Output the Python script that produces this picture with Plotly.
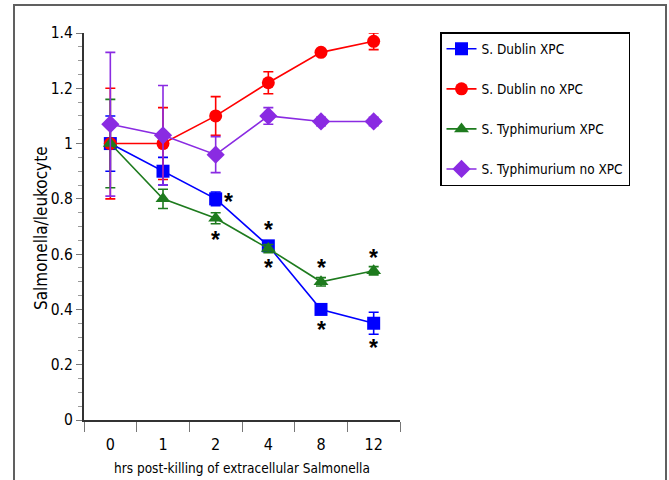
import plotly.graph_objects as go

hours = ["0", "1", "2", "4", "8", "12"]

dublin_xpc = [1.00, 0.90, 0.80, 0.63, 0.40, 0.35]
dublin_xpc_err = [0.10, 0.05, 0.025, 0.015, 0.015, 0.04]
dublin_no = [1.00, 1.00, 1.10, 1.22, 1.33, 1.37]
dublin_no_err = [0.20, 0.13, 0.07, 0.04, 0.01, 0.03]
typh_xpc = [1.00, 0.80, 0.73, 0.62, 0.50, 0.54]
typh_xpc_err = [0.16, 0.035, 0.02, 0.015, 0.015, 0.015]
typh_no = [1.07, 1.03, 0.96, 1.10, 1.08, 1.08]
typh_no_err = [0.26, 0.18, 0.065, 0.03, 0.015, 0.015]

names = ["S. Dublin XPC", "S. Dublin no XPC", "S. Typhimurium XPC", "S. Typhimurium no XPC"]
colors = ["#0000FF", "#FF0000", "#1E7B1E", "#8A2BE2"]
symbols = ["square", "circle", "triangle-up", "diamond"]
sizes = [13, 13, 13, 14]

# significance asterisks (hour label, value position)
ast_hour = ["2", "2", "4", "4", "8", "8", "12", "12"]
ast_y = [0.80, 0.663, 0.699, 0.561, 0.56, 0.338, 0.597, 0.271]
ast_dx = [13, 0, 0, 0, 0, 0, 0, 0]

y_ticks = [0, 0.2, 0.4, 0.6, 0.8, 1.0, 1.2, 1.4]
y_labels = ["0", "0.2", "0.4", "0.6", "0.8", "1", "1.2", "1.4"]

FONT = "DejaVu Sans Condensed, Liberation Sans Narrow, Arial Narrow, Liberation Sans, Arial"

xpos = list(range(len(hours)))
hour_index = {h: i for i, h in enumerate(hours)}

L, T, W, H = 84, 33, 316, 387

fig = go.Figure()
for n, y, e, c, s, sz in zip(names, [dublin_xpc, dublin_no, typh_xpc, typh_no],
                             [dublin_xpc_err, dublin_no_err, typh_xpc_err, typh_no_err],
                             colors, symbols, sizes):
    fig.add_trace(go.Scatter(
        x=xpos, y=y, name=n, mode="lines+markers",
        line=dict(color=c, width=1.6),
        marker=dict(symbol=s, size=sz, color=c),
        error_y=dict(type="data", array=e, color=c, thickness=1.6, width=5),
        legendgroup=n, cliponaxis=False,
    ))

for h, y, dx in zip(ast_hour, ast_y, ast_dx):
    fig.add_annotation(x=hour_index[h], y=y, xref="x", yref="y", text="<b>*</b>", showarrow=False,
                       xshift=dx, yshift=-3, font=dict(size=23, color="black", family="Liberation Sans"))

# y-axis title
fig.add_annotation(x=(41 - L) / W, y=(T + H - 228) / H, xref="paper", yref="paper",
                   xanchor="center", yanchor="middle",
                   text="Salmonella/leukocyte", textangle=-90, showarrow=False,
                   font=dict(size=17, family=FONT, color="black"))

# outer frame
fig.add_shape(type="rect", xref="paper", yref="paper",
              x0=(14 - L) / W, x1=(666 - L) / W, y0=-0.3, y1=(T + H - 5) / H,
              line=dict(color="#606060", width=2), layer="below")

fig.update_layout(
    width=669, height=480,
    margin=dict(l=L, r=669 - L - W, t=T, b=480 - T - H, autoexpand=False),
    paper_bgcolor="white", plot_bgcolor="white",
    font=dict(family=FONT, color="black", size=15),
    showlegend=True,
    legend=dict(x=(440 - L) / W, y=(T + H - 32) / H, xanchor="left", yanchor="top",
                bordercolor="black", borderwidth=1.5, bgcolor="white",
                font=dict(size=13.5, family=FONT), tracegroupgap=19.5,
                itemwidth=30),
    xaxis=dict(range=[-0.5, 5.5], showgrid=False, zeroline=False,
               showline=True, linecolor="#333333", linewidth=2,
               tickmode="array", tickvals=xpos, ticktext=hours, ticks="",
               tickfont=dict(size=16), ticklabelstandoff=9,
               minor=dict(tick0=-0.5, dtick=1, ticks="outside", ticklen=10, tickwidth=1.2,
                          tickcolor="#777777", showgrid=False),
               automargin=False,
               title=dict(text="hrs post-killing of extracellular Salmonella", font=dict(size=13.5), standoff=10)),
    yaxis=dict(range=[0, 1.4], showgrid=False, zeroline=False,
               showline=True, linecolor="#333333", linewidth=2,
               tickmode="array", tickvals=y_ticks, ticktext=y_labels,
               ticks="outside", ticklen=6, tickwidth=1.2, tickcolor="#777777",
               tickfont=dict(size=15.5), automargin=False,
               minor=dict(dtick=0.05, ticks="outside", ticklen=4, tickcolor="#999999", tickwidth=1)),
)

fig.write_html("out.html", config={"displayModeBar": False},
               post_script="document.body.style.margin='0';document.body.style.overflow='hidden';")
